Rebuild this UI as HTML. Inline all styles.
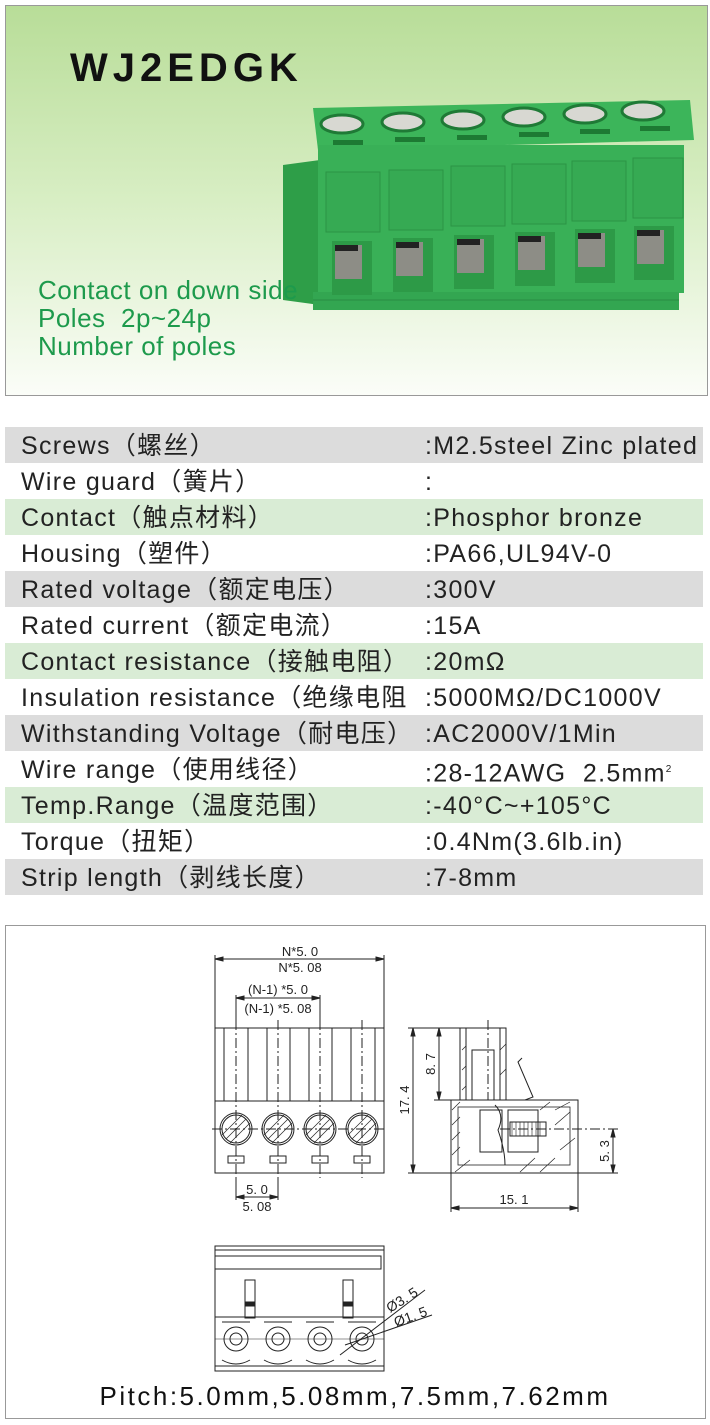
<!DOCTYPE html>
<html><head><meta charset="utf-8"><style>
body{margin:0;width:710px;height:1425px;background:#fff;position:relative;font-family:"Liberation Sans","Noto Sans CJK SC",sans-serif;overflow:hidden}
.top{position:absolute;left:5px;top:5px;width:701px;height:389px;border:1px solid #999;background:linear-gradient(#b8dd98,#d8eec4 50%,#fbfdf8)}
.title{position:absolute;left:70px;top:46px;font-size:40px;font-weight:bold;letter-spacing:5px;color:#111}
.gt{position:absolute;left:38px;font-size:26px;letter-spacing:0.5px;color:#1d9a4c;line-height:28px;white-space:nowrap}
.row{position:absolute;left:5px;width:698px;height:36px;font-size:25px;letter-spacing:1.3px;color:#222;line-height:38px;overflow:hidden}
.row span{position:absolute;left:420px;white-space:nowrap}
.row b{font-weight:normal;position:absolute;left:16px;white-space:nowrap}
.g{background:#dcdcdc}.gr{background:#d9ecd5}
.bot{position:absolute;left:5px;top:925px;width:699px;height:492px;border:1px solid #999}
</style></head><body>
<div class="top"></div>
<div class="title">WJ2EDGK</div>
<svg style="position:absolute;left:0;top:0" width="710" height="400">
<polygon points="283,165 320,160 320,305 283,300" fill="#2e9e48"/>
<polygon points="313,108 690,100 694,140 318,150" fill="#3cb55a"/>
<rect x="318" y="145" width="366" height="148" fill="#39b057"/>
<rect x="313" y="292" width="366" height="18" fill="#33a651"/>
<line x1="313" y1="300" x2="679" y2="300" stroke="#2a8c44"/>
<g fill="#36aa53" stroke="#2c9445" stroke-width="1">
<rect x="326" y="172" width="54" height="60"/><rect x="389" y="170" width="54" height="60"/><rect x="451" y="166" width="54" height="60"/><rect x="512" y="164" width="54" height="60"/><rect x="572" y="161" width="54" height="60"/><rect x="633" y="158" width="50" height="60"/>
</g>
<g>
<g fill="#d8d8d2" stroke="#1f7a36" stroke-width="3">
<ellipse cx="342" cy="124" rx="21" ry="9"/><ellipse cx="403" cy="122" rx="21" ry="9"/><ellipse cx="463" cy="120" rx="21" ry="9"/><ellipse cx="524" cy="117" rx="21" ry="9"/><ellipse cx="585" cy="114" rx="21" ry="9"/><ellipse cx="643" cy="111" rx="21" ry="9"/>
</g>
<g fill="#1d7a33"><rect x="333" y="140" width="30" height="5"/><rect x="395" y="137" width="30" height="5"/><rect x="457" y="135" width="30" height="5"/><rect x="519" y="132" width="30" height="5"/><rect x="580" y="129" width="30" height="5"/><rect x="640" y="126" width="30" height="5"/></g>
<g fill="#2d9a47"><rect x="332" y="241" width="40" height="54"/><rect x="393" y="238" width="40" height="54"/><rect x="454" y="235" width="40" height="54"/><rect x="515" y="232" width="40" height="54"/><rect x="575" y="229" width="40" height="54"/><rect x="634" y="226" width="40" height="54"/></g>
<g fill="#8d8d86"><rect x="335" y="245" width="27" height="34"/><rect x="396" y="242" width="27" height="34"/><rect x="457" y="239" width="27" height="34"/><rect x="518" y="236" width="27" height="34"/><rect x="578" y="233" width="27" height="34"/><rect x="637" y="230" width="27" height="34"/></g>
<g fill="#222"><rect x="335" y="245" width="23" height="6"/><rect x="396" y="242" width="23" height="6"/><rect x="457" y="239" width="23" height="6"/><rect x="518" y="236" width="23" height="6"/><rect x="578" y="233" width="23" height="6"/><rect x="637" y="230" width="23" height="6"/></g>
</g>
</svg>
<div class="gt" style="top:276px">Contact on down side</div>
<div class="gt" style="top:304px">Poles&nbsp; 2p~24p</div>
<div class="gt" style="top:332px">Number of poles</div>

<div class="row g" style="top:427px"><b>Screws（螺丝）</b><span>:M2.5steel Zinc plated</span></div>
<div class="row" style="top:463px"><b>Wire guard（簧片）</b><span>:</span></div>
<div class="row gr" style="top:499px"><b>Contact（触点材料）</b><span>:Phosphor bronze</span></div>
<div class="row" style="top:535px"><b>Housing（塑件）</b><span>:PA66,UL94V-0</span></div>
<div class="row g" style="top:571px"><b>Rated voltage（额定电压）</b><span>:300V</span></div>
<div class="row" style="top:607px"><b>Rated current（额定电流）</b><span>:15A</span></div>
<div class="row gr" style="top:643px"><b>Contact resistance（接触电阻）</b><span>:20mΩ</span></div>
<div class="row" style="top:679px"><b>Insulation resistance（绝缘电阻</b><span style="background:#fff">:5000MΩ/DC1000V</span></div>
<div class="row g" style="top:715px"><b>Withstanding Voltage（耐电压）</b><span>:AC2000V/1Min</span></div>
<div class="row" style="top:751px"><b>Wire range（使用线径）</b><span>:28-12AWG&nbsp; 2.5mm<sup style="font-size:10px">2</sup></span></div>
<div class="row gr" style="top:787px"><b>Temp.Range（温度范围）</b><span>:-40°C~+105°C</span></div>
<div class="row" style="top:823px"><b>Torque（扭矩）</b><span>:0.4Nm(3.6lb.in)</span></div>
<div class="row g" style="top:859px"><b>Strip length（剥线长度）</b><span>:7-8mm</span></div>

<div class="bot"></div>
<svg style="position:absolute;left:0;top:925px" width="710" height="500" font-family="Liberation Sans, sans-serif" font-size="12" fill="none" stroke="#222" stroke-width="1">
<g transform="translate(0,-925)">
<rect x="215" y="1028" width="169" height="145"/>
<line x1="215" y1="1101" x2="384" y2="1101"/>
<g><line x1="224" y1="1028" x2="224" y2="1101"/><line x1="248" y1="1028" x2="248" y2="1101"/><line x1="267" y1="1028" x2="267" y2="1101"/><line x1="290" y1="1028" x2="290" y2="1101"/><line x1="309" y1="1028" x2="309" y2="1101"/><line x1="332" y1="1028" x2="332" y2="1101"/><line x1="351" y1="1028" x2="351" y2="1101"/><line x1="375" y1="1028" x2="375" y2="1101"/></g>
<g stroke-dasharray="10,3,2,3"><line x1="236" y1="1020" x2="236" y2="1178"/><line x1="278" y1="1020" x2="278" y2="1178"/><line x1="320" y1="1020" x2="320" y2="1178"/><line x1="362" y1="1020" x2="362" y2="1178"/><line x1="212" y1="1129" x2="387" y2="1129"/></g>
<g><circle cx="236" cy="1129" r="16"/><circle cx="278" cy="1129" r="16"/><circle cx="320" cy="1129" r="16"/><circle cx="362" cy="1129" r="16"/>
<circle cx="236" cy="1129" r="14"/><circle cx="278" cy="1129" r="14"/><circle cx="320" cy="1129" r="14"/><circle cx="362" cy="1129" r="14"/>
<path d="M226 1139 L246 1119 M230 1143 L250 1123 M222 1135 L242 1115 M268 1139 L288 1119 M272 1143 L292 1123 M264 1135 L284 1115 M310 1139 L330 1119 M314 1143 L334 1123 M306 1135 L326 1115 M352 1139 L372 1119 M356 1143 L376 1123 M348 1135 L368 1115" stroke-width="0.7"/>
<rect x="228" y="1156" width="16" height="7"/><rect x="270" y="1156" width="16" height="7"/><rect x="312" y="1156" width="16" height="7"/><rect x="354" y="1156" width="16" height="7"/></g>
<line x1="215" y1="955" x2="215" y2="1028"/><line x1="384" y1="955" x2="384" y2="1028"/>
<line x1="215" y1="959" x2="384" y2="959"/><path d="M215 959 l8 -2 v4z M384 959 l-8 -2 v4z" fill="#222"/>
<line x1="236" y1="995" x2="236" y2="1020"/><line x1="320" y1="995" x2="320" y2="1020"/>
<line x1="236" y1="998" x2="320" y2="998"/><path d="M236 998 l8 -2 v4z M320 998 l-8 -2 v4z" fill="#222"/>
<line x1="236" y1="1178" x2="236" y2="1200"/><line x1="278" y1="1178" x2="278" y2="1200"/>
<line x1="236" y1="1197" x2="278" y2="1197"/><path d="M236 1197 l8 -2 v4z M278 1197 l-8 -2 v4z" fill="#222"/>
<g fill="#222" stroke="none" text-anchor="middle" font-size="13"><text x="300" y="956">N*5. 0</text><text x="300" y="972">N*5. 08</text><text x="278" y="994">(N-1) *5. 0</text><text x="278" y="1013">(N-1) *5. 08</text><text x="257" y="1194">5. 0</text><text x="257" y="1211">5. 08</text></g>

<rect x="451" y="1100" width="127" height="73"/>
<rect x="460" y="1028" width="46" height="72"/>
<line x1="466" y1="1028" x2="466" y2="1100"/><line x1="500" y1="1028" x2="500" y2="1100"/>
<rect x="472" y="1050" width="22" height="50"/>
<path d="M506 1100 L525 1100 L533 1097 L518 1062 L522 1058" />
<rect x="458" y="1107" width="112" height="58" stroke-width="0.8"/>
<rect x="480" y="1110" width="22" height="42"/><rect x="508" y="1110" width="30" height="42"/>
<rect x="510" y="1122" width="36" height="14"/><path d="M512 1122 v14 M516 1122 v14 M520 1122 v14 M524 1122 v14 M528 1122 v14 M532 1122 v14 M536 1122 v14 M540 1122 v14" stroke-width="0.6"/>
<path d="M495 1105 Q505 1115 498 1130 Q505 1150 505 1165" />
<path d="M452 1110 L460 1102 M452 1125 L460 1117 M452 1140 L460 1132 M452 1155 L460 1147 M455 1172 L470 1160 M520 1172 L535 1158 M540 1172 L555 1158 M555 1110 L570 1102 M555 1125 L570 1112 M560 1150 L575 1138 M540 1110 L550 1102 M462 1050 L466 1046 M462 1070 L466 1066 M462 1090 L466 1086 M500 1050 L506 1044 M500 1075 L506 1069" stroke-width="0.7"/>
<line x1="488" y1="1020" x2="488" y2="1100" stroke-dasharray="10,3,2,3"/>
<line x1="500" y1="1129" x2="620" y2="1129" stroke-dasharray="10,3,2,3"/>
<line x1="408" y1="1028" x2="460" y2="1028"/><line x1="408" y1="1173" x2="451" y2="1173"/><line x1="434" y1="1100" x2="451" y2="1100"/>
<line x1="413" y1="1028" x2="413" y2="1173"/><path d="M413 1028 l-2 8 h4z M413 1173 l-2 -8 h4z" fill="#222"/>
<line x1="439" y1="1028" x2="439" y2="1100"/><path d="M439 1028 l-2 8 h4z M439 1100 l-2 -8 h4z" fill="#222"/>
<line x1="578" y1="1173" x2="618" y2="1173"/>
<line x1="613" y1="1129" x2="613" y2="1173"/><path d="M613 1129 l-2 8 h4z M613 1173 l-2 -8 h4z" fill="#222"/>
<line x1="451" y1="1173" x2="451" y2="1212"/><line x1="578" y1="1173" x2="578" y2="1212"/>
<line x1="451" y1="1208" x2="578" y2="1208"/><path d="M451 1208 l8 -2 v4z M578 1208 l-8 -2 v4z" fill="#222"/>
<g fill="#222" stroke="none" text-anchor="middle" font-size="13"><text x="514" y="1204">15. 1</text>
<text transform="translate(409,1100) rotate(-90)">17. 4</text><text transform="translate(435,1064) rotate(-90)">8. 7</text><text transform="translate(609,1151) rotate(-90)">5. 3</text></g>

<rect x="215" y="1246" width="169" height="125"/>
<line x1="215" y1="1250" x2="384" y2="1250"/><rect x="215" y="1256" width="166" height="13"/>
<rect x="245" y="1280" width="10" height="38"/><rect x="343" y="1280" width="10" height="38"/>
<rect x="245" y="1302" width="10" height="4" fill="#222"/><rect x="343" y="1302" width="10" height="4" fill="#222"/>
<line x1="215" y1="1317" x2="384" y2="1317"/><line x1="215" y1="1366" x2="384" y2="1366"/>
<g><circle cx="236" cy="1339" r="12"/><circle cx="278" cy="1339" r="12"/><circle cx="320" cy="1339" r="12"/><circle cx="362" cy="1339" r="12"/>
<circle cx="236" cy="1339" r="6"/><circle cx="278" cy="1339" r="6"/><circle cx="320" cy="1339" r="6"/><circle cx="362" cy="1339" r="6"/>
<path d="M222 1360 Q236 1368 250 1360 M264 1360 Q278 1368 292 1360 M306 1360 Q320 1368 334 1360 M348 1360 Q362 1368 376 1360 M222 1322 h28 M264 1322 h28 M306 1322 h28 M348 1322 h28" /></g>
<line x1="215" y1="1339" x2="384" y2="1339" stroke-width="0.6"/>
<line x1="340" y1="1355" x2="425" y2="1290"/><line x1="345" y1="1345" x2="432" y2="1315"/>
<g fill="#222" stroke="none" font-size="14"><text transform="translate(390,1313) rotate(-32)">Ø3. 5</text><text transform="translate(396,1327) rotate(-20)">Ø1. 5</text></g>
</g>
</svg>
<div style="position:absolute;left:0;width:710px;text-align:center;top:1381px;font-size:26px;letter-spacing:2.5px;color:#111;white-space:nowrap">Pitch:5.0mm,5.08mm,7.5mm,7.62mm</div>
</body></html>
